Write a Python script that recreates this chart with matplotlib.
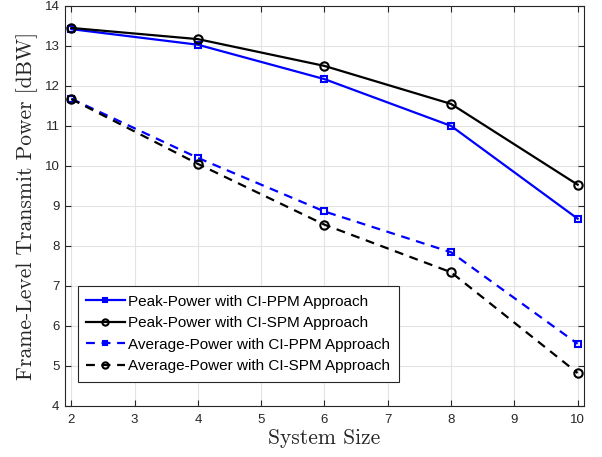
import numpy as np
import matplotlib.pyplot as plt

system_size = [2, 4, 6, 8, 10]
peak_ppm = [13.42, 13.03, 12.17, 11.00, 8.68]
peak_spm = [13.45, 13.17, 12.50, 11.55, 9.53]
avg_ppm = [11.68, 10.20, 8.86, 7.84, 5.55]
avg_spm = [11.67, 10.05, 8.53, 7.34, 4.82]

labels = [
    "Peak-Power with CI-PPM Approach",
    "Peak-Power with CI-SPM Approach",
    "Average-Power with CI-PPM Approach",
    "Average-Power with CI-SPM Approach",
]

plt.rcParams["font.family"] = ["Liberation Sans", "DejaVu Sans"]

fig = plt.figure(figsize=(6.02, 4.57), dpi=100)
ax = fig.add_axes([0.108, 0.112, 0.862, 0.875])

dash = (0, (4, 3))
ax.plot(system_size, peak_ppm, color="blue", ls="-", lw=1.6, marker="s",
        ms=5, mfc="none", mew=1.5, label=labels[0])
ax.plot(system_size, peak_spm, color="black", ls="-", lw=1.6, marker="o",
        ms=6, mfc="none", mew=1.5, label=labels[1])
ax.plot(system_size, avg_ppm, color="blue", ls=dash, lw=1.6, marker="s",
        ms=5, mfc="none", mew=1.5, label=labels[2])
ax.plot(system_size, avg_spm, color="black", ls=dash, lw=1.6, marker="o",
        ms=6, mfc="none", mew=1.5, label=labels[3])

ax.set_xlim(1.9, 10.1)
ax.set_ylim(4, 14)
ax.set_xticks(range(2, 11))
ax.set_yticks(range(4, 15))
ax.grid(True, color="#e3e3e3", lw=0.8)
ax.set_axisbelow(True)
ax.tick_params(direction="in", top=True, right=True, labelsize=9.5,
               colors="#262626", length=4)
ax.tick_params(axis="x", pad=6)
ax.tick_params(axis="y", pad=4)
for s in ax.spines.values():
    s.set_color("#262626")
    s.set_linewidth(0.8)

ax.set_xlabel("System Size", family=["cmr10", "DejaVu Serif"], fontsize=15.5,
              color="#262626", labelpad=2)
ax.set_ylabel("Frame-Level Transmit Power [dBW]", family=["cmr10", "DejaVu Serif"],
              fontsize=15.5, color="#262626", labelpad=5)

leg = ax.legend(loc="lower left", bbox_to_anchor=(0.025, 0.06), borderaxespad=0,
                fontsize=11, fancybox=False, framealpha=1, edgecolor="#262626",
                handlelength=2.5, handletextpad=0.25, borderpad=0.55,
                labelspacing=0.5)
leg.get_frame().set_linewidth(0.8)
for h, ms in zip(leg.legend_handles, [3.5, 4.5, 3.5, 4.5]):
    h.set_markersize(ms)

fig.savefig("out.png", dpi=100)
